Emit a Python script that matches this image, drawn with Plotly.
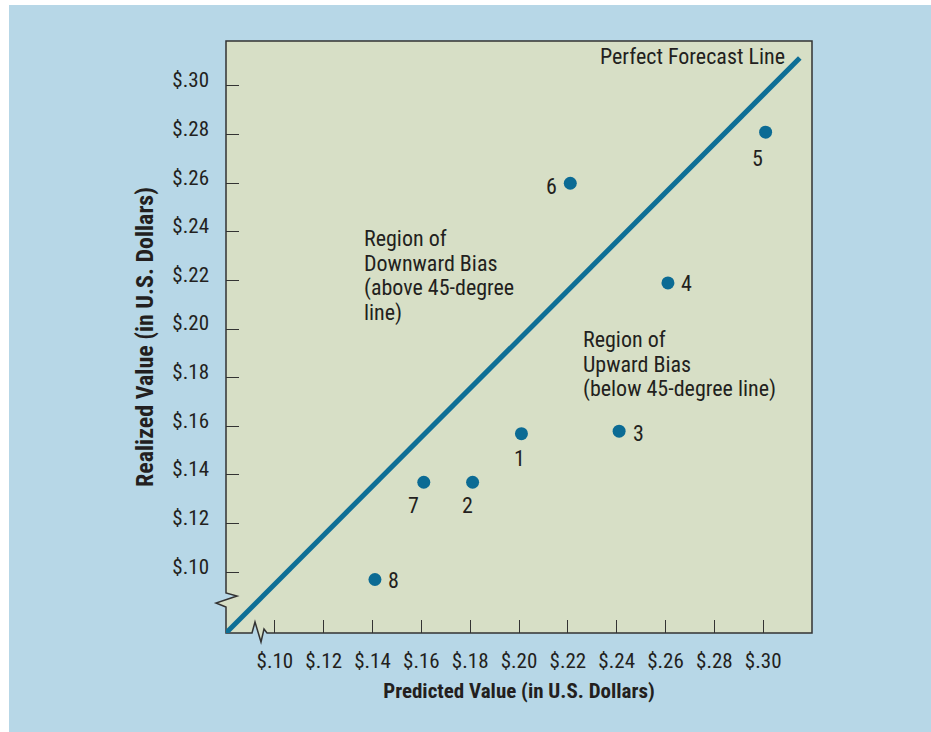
import plotly.graph_objects as go

# ---- data ----
point_labels = ["1", "2", "3", "4", "5", "6", "7", "8"]
predicted = [0.201, 0.181, 0.241, 0.261, 0.301, 0.221, 0.161, 0.141]
realized = [0.157, 0.137, 0.158, 0.219, 0.281, 0.260, 0.137, 0.097]

forecast_line_x = [0.08, 0.315]
forecast_line_y = [0.075, 0.3115]

tick_vals = [0.10, 0.12, 0.14, 0.16, 0.18, 0.20, 0.22, 0.24, 0.26, 0.28, 0.30]
tick_text = ["$.10", "$.12", "$.14", "$.16", "$.18", "$.20", "$.22", "$.24", "$.26", "$.28", "$.30"]

downward_lines = ["Region of", "Downward Bias", "(above 45-degree", "line)"]
upward_lines = ["Region of", "Upward Bias", "(below 45-degree line)"]

# ---- style ----
W, H = 931, 732
L, R, T, B = 226, 812, 41, 633
FONT = "Liberation Sans Narrow, Arial Narrow, Roboto Condensed, sans-serif"
TXT = "#231f20"
BLUE_BG = "#b7d7e7"
PLOT_BG = "#d7dfc6"
MARK = "#0b6b94"
AXC = "#333333"

# label pixel offsets (dx, dy) relative to each point
label_offsets = [(-2, 25), (-5, 23), (19, 2), (19, 1), (-8, 26), (-19, 3), (-10, 23), (19, 1)]


def px(xp):
    return (xp - L) / (R - L)


def py(yp):
    return (B - yp) / (B - T)


fig = go.Figure()
fig.add_trace(go.Scatter(
    x=forecast_line_x, y=forecast_line_y, mode="lines",
    line=dict(color="#0e6f96", width=5), hoverinfo="skip", showlegend=False,
))
fig.add_trace(go.Scatter(
    x=predicted, y=realized, mode="markers",
    marker=dict(color=MARK, size=13), showlegend=False,
))

annotations = []
for lab, xv, yv, (dx, dy) in zip(point_labels, predicted, realized, label_offsets):
    annotations.append(dict(
        x=xv, y=yv, xref="x", yref="y", text=lab, showarrow=False,
        xshift=dx, yshift=-dy, font=dict(family=FONT, size=22, color=TXT),
        xanchor="center", yanchor="middle",
    ))

annotations.append(dict(
    x=px(787), y=py(57), xref="paper", yref="paper", text="Perfect Forecast Line",
    showarrow=False, xanchor="right", yanchor="middle",
    font=dict(family=FONT, size=22, color=TXT),
))
for i, line in enumerate(downward_lines):
    annotations.append(dict(
        x=px(362), y=py(238 + 25 * i), xref="paper", yref="paper", text=line,
        showarrow=False, xanchor="left", yanchor="middle",
        font=dict(family=FONT, size=22, color=TXT),
    ))
for i, line in enumerate(upward_lines):
    annotations.append(dict(
        x=px(581), y=py(339 + 25 * i), xref="paper", yref="paper", text=line,
        showarrow=False, xanchor="left", yanchor="middle",
        font=dict(family=FONT, size=22, color=TXT),
    ))

# frame with axis-break zigzags (paper coords)
frame_pts = [(226, 41), (226, 593), (237, 596), (216, 603), (226, 607), (226, 633),
             (252, 633), (255, 622), (261, 642), (264, 629), (267, 633),
             (812, 633), (812, 41)]
path = "M " + " L ".join(f"{px(a):.5f},{py(b):.5f}" for a, b in frame_pts) + " Z"

shapes = [
    dict(type="path", path=path, xref="paper", yref="paper",
         line=dict(color=AXC, width=1.5), fillcolor=PLOT_BG, layer="below"),
    dict(type="rect", xref="paper", yref="paper", x0=px(0), x1=px(9), y0=py(H), y1=py(0),
         fillcolor="white", line=dict(width=0)),
    dict(type="rect", xref="paper", yref="paper", x0=px(0), x1=px(W), y0=py(5), y1=py(0),
         fillcolor="white", line=dict(width=0)),
]

axis_common = dict(
    tickvals=tick_vals, ticktext=tick_text, ticks="inside", ticklen=13,
    tickcolor=AXC, tickwidth=1.3, showgrid=False, zeroline=False, showline=False,
    tickfont=dict(family=FONT, size=21, color=TXT),
)

fig.update_layout(
    width=W, height=H,
    margin=dict(l=L, r=W - R, t=T, b=H - B),
    paper_bgcolor=BLUE_BG, plot_bgcolor="rgba(0,0,0,0)",
    xaxis=dict(range=[0.08, 0.32], **axis_common,
               title=dict(text="<b>Predicted Value (in U.S. Dollars)</b>",
                          font=dict(family=FONT, size=21, color=TXT), standoff=11),
               ticklabelstandoff=13),
    yaxis=dict(range=[0.075, 0.3185], **axis_common,
               title=dict(text="<b>Realized Value (in U.S. Dollars)</b>",
                          font=dict(family=FONT, size=24, color=TXT), standoff=11),
               ticklabelstandoff=16, ticklabelshift=-6),
    annotations=annotations,
    shapes=shapes,
)

fig.write_html("out.html", config={"displayModeBar": False},
               post_script="document.body.style.margin='0';document.body.style.padding='0';")
